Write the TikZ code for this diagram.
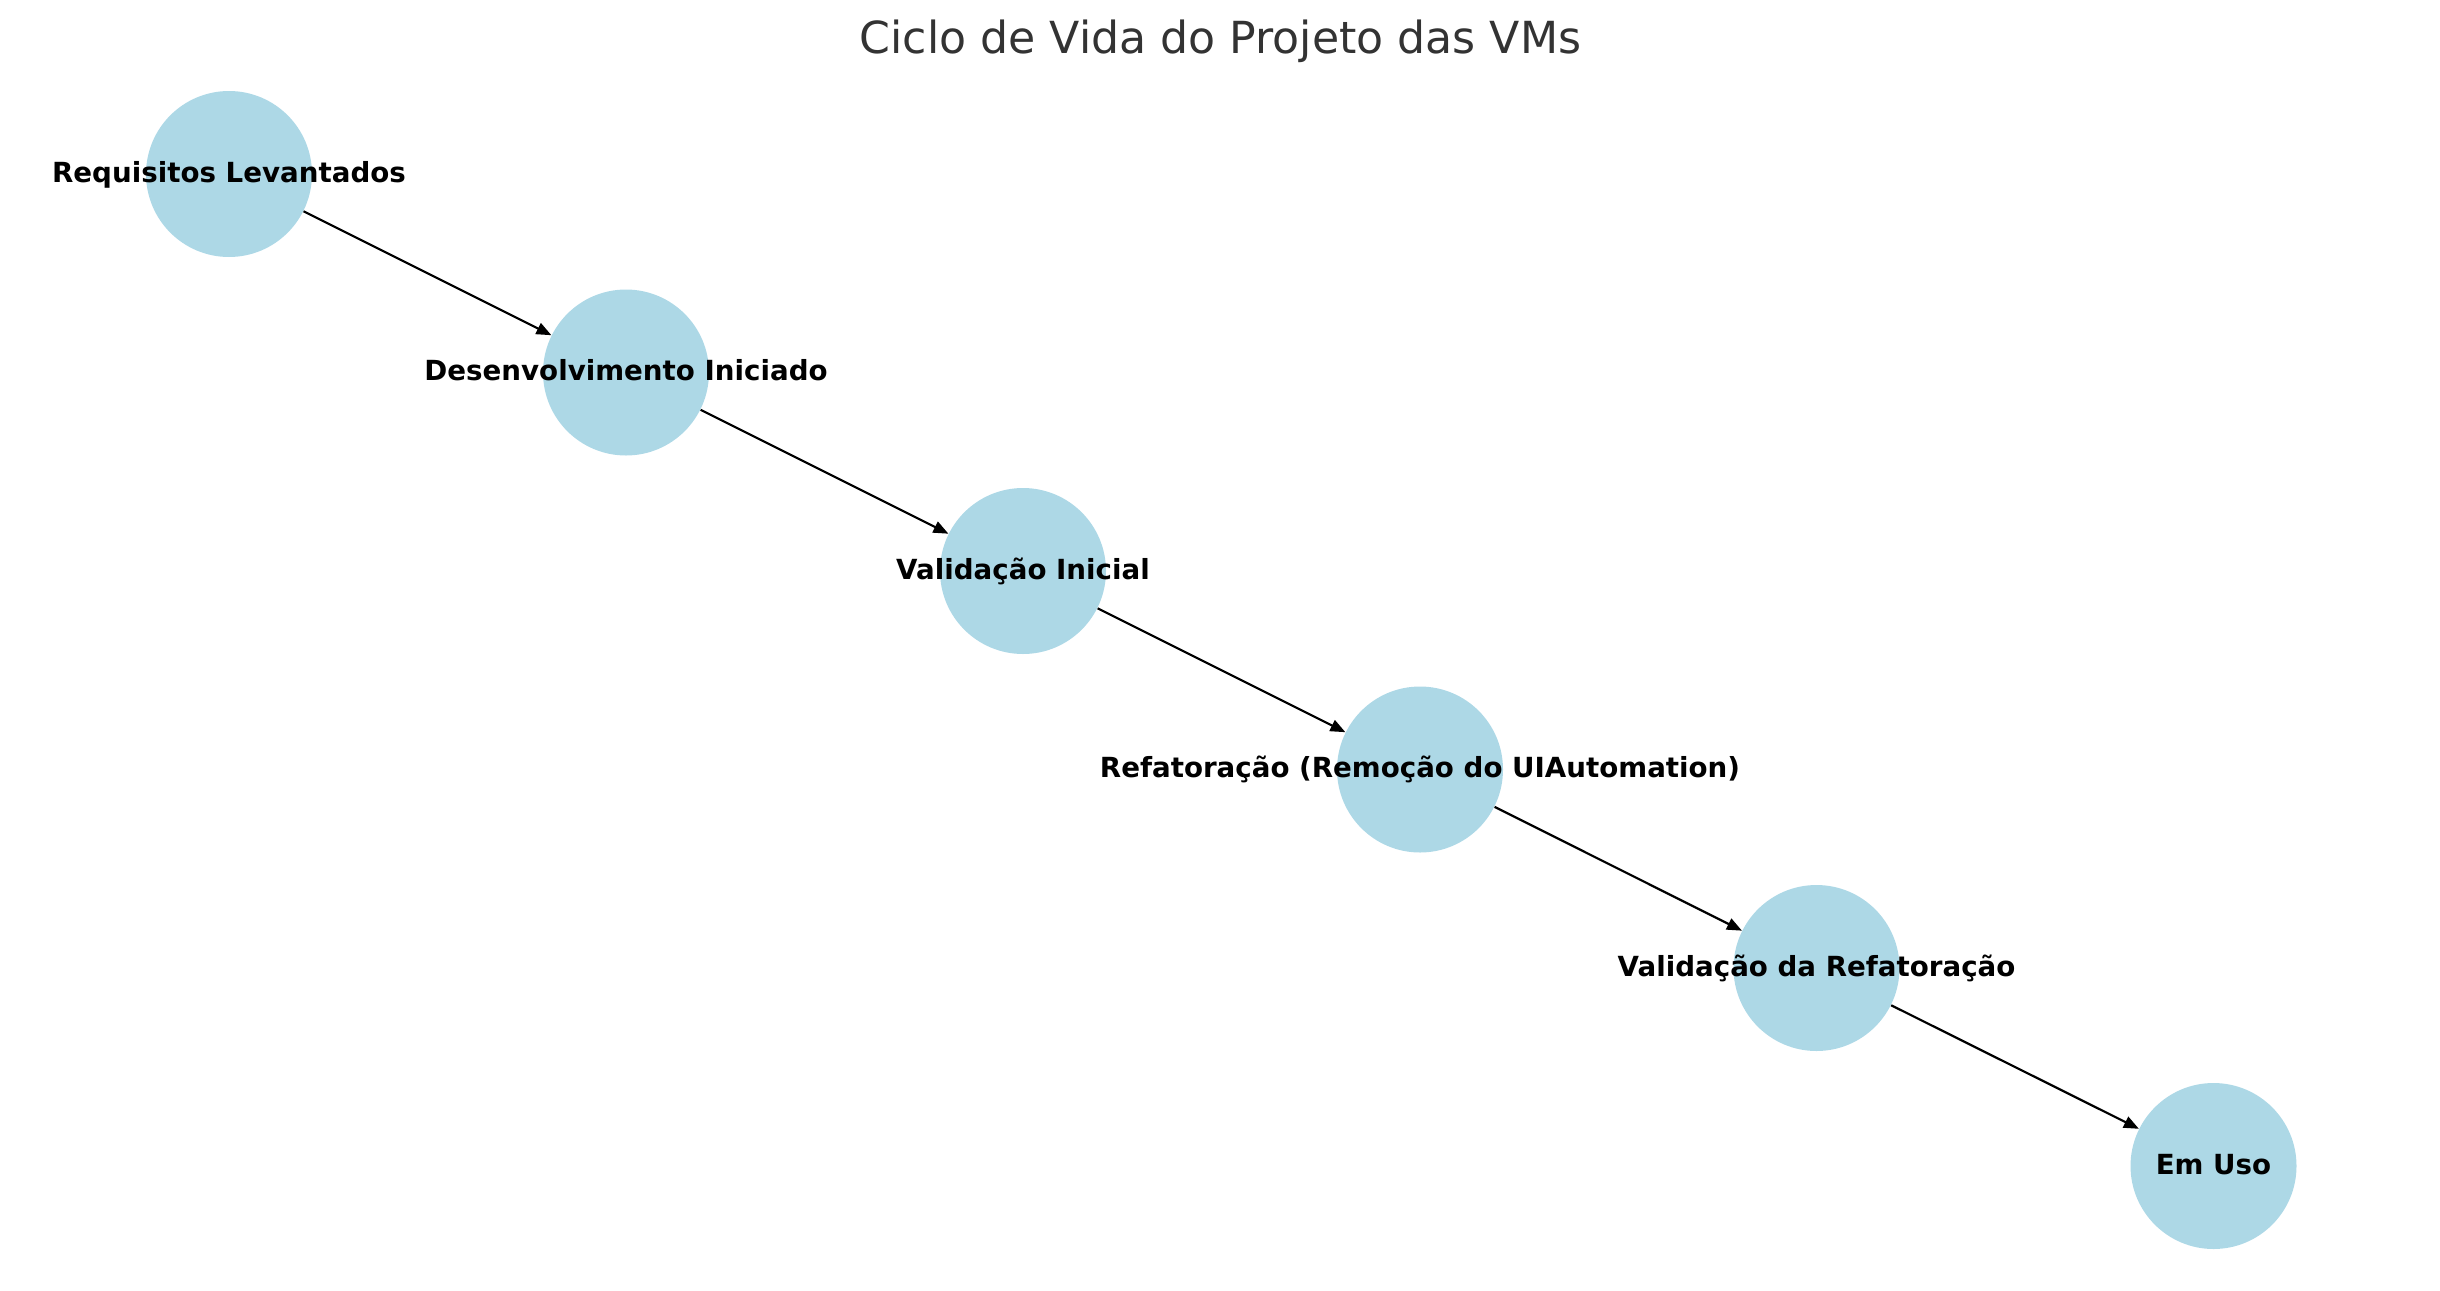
\documentclass[tikz,border=0pt]{standalone}
\usepackage{fontspec}
\setmainfont{DejaVu Sans}
\usetikzlibrary{arrows.meta}
\definecolor{nodeblue}{HTML}{ADD8E6}
\definecolor{titlegray}{HTML}{333333}
\begin{document}
\begin{tikzpicture}[x=0.5pt,y=-0.5pt,
  vm/.style={circle,fill=nodeblue,draw=none,minimum size=83pt,inner sep=0pt},
  lbl/.style={font=\bfseries\fontsize{13.85pt}{16pt}\selectfont,text=black,inner sep=0pt,anchor=base,yshift=-4.15pt},
  edge/.style={-{Triangle[length=7.5pt,width=6pt]},line width=1.1pt,black,shorten >=0pt,shorten <=0pt}]
\useasboundingbox (0,0) rectangle (2440,1290);
\node[font=\fontsize{22.1pt}{27pt}\selectfont,text=titlegray,anchor=base] (title) at (1220.5,54) {Ciclo de Vida do Projeto das VMs};
\node[vm] (n1) at (229,174) {};
\node[vm] (n2) at (626,372.5) {};
\node[vm] (n3) at (1023,571) {};
\node[vm] (n4) at (1420,769.5) {};
\node[vm] (n5) at (1816.5,968) {};
\node[vm] (n6) at (2213.5,1166) {};
\draw[edge] (n1) -- (n2);
\draw[edge] (n2) -- (n3);
\draw[edge] (n3) -- (n4);
\draw[edge] (n4) -- (n5);
\draw[edge] (n5) -- (n6);
\node[lbl] (t1) at (n1) {Requisitos Levantados};
\node[lbl] (t2) at (n2) {Desenvolvimento Iniciado};
\node[lbl] (t3) at (n3) {Validação Inicial};
\node[lbl] (t4) at (n4) {Refatoração (Remoção do UIAutomation)};
\node[lbl] (t5) at (n5) {Validação da Refatoração};
\node[lbl] (t6) at (n6) {Em Uso};
\end{tikzpicture}
\end{document}
